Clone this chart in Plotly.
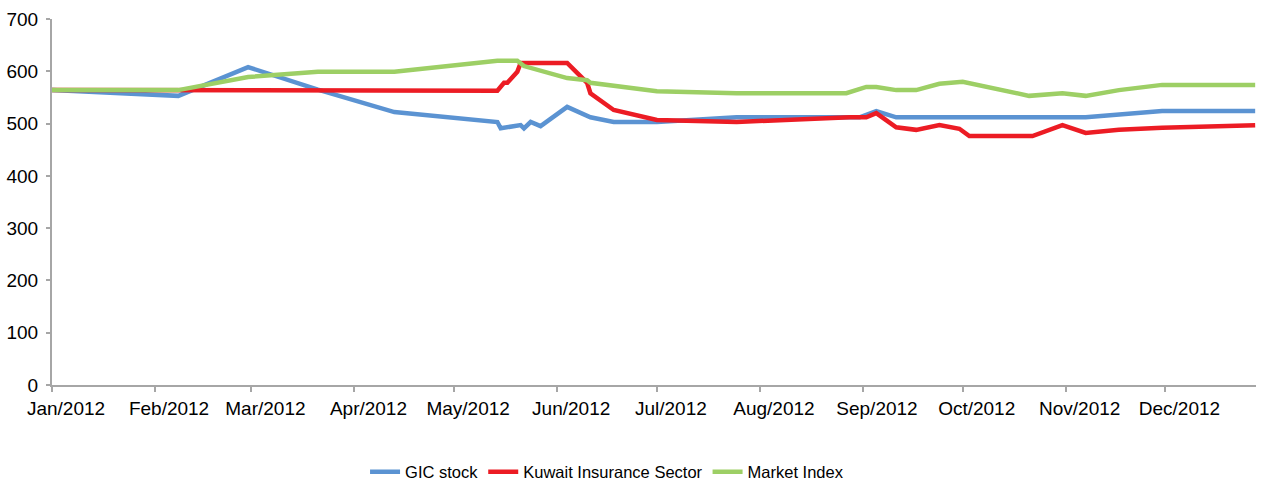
import plotly.graph_objects as go

gic_dates = ["2012-01-01", "2012-02-08", "2012-02-29", "2012-03-21", "2012-04-13", "2012-05-14",
             "2012-05-15", "2012-05-21", "2012-05-22", "2012-05-24", "2012-05-27", "2012-06-04",
             "2012-06-11", "2012-06-18", "2012-07-01", "2012-07-25", "2012-08-31", "2012-09-05",
             "2012-09-11", "2012-11-07", "2012-11-30", "2012-12-28"]
gic_values = [564, 553, 608, 565, 522, 503, 491, 497, 491, 503, 495, 532,
              512, 503, 503, 512, 512, 524, 512, 512, 524, 524]

kis_dates = ["2012-01-01", "2012-02-08", "2012-02-29", "2012-04-13", "2012-05-14", "2012-05-16",
             "2012-05-17", "2012-05-20", "2012-05-21", "2012-06-04", "2012-06-10", "2012-06-11",
             "2012-06-18", "2012-07-01", "2012-07-25", "2012-08-28", "2012-09-02", "2012-09-05",
             "2012-09-11", "2012-09-17", "2012-09-24", "2012-09-30", "2012-10-03", "2012-10-22",
             "2012-10-31", "2012-11-07", "2012-11-17", "2012-11-30", "2012-12-28"]
kis_values = [564, 564, 564, 564, 563, 578, 578, 599, 616, 616, 578, 558,
              526, 507, 503, 512, 512, 520, 493, 488, 497, 490, 476, 476,
              497, 482, 488, 492, 497]

mkt_dates = ["2012-01-01", "2012-02-08", "2012-02-29", "2012-03-21", "2012-04-13", "2012-05-14",
             "2012-05-20", "2012-05-22", "2012-06-04", "2012-06-10", "2012-06-11", "2012-06-18",
             "2012-07-01", "2012-07-25", "2012-08-27", "2012-09-02", "2012-09-05", "2012-09-11",
             "2012-09-17", "2012-09-24", "2012-10-01", "2012-10-21", "2012-10-31", "2012-11-07",
             "2012-11-17", "2012-11-30", "2012-12-28"]
mkt_values = [564, 564, 589, 599, 599, 620, 620, 610, 587, 583, 578, 572,
              562, 558, 558, 570, 570, 564, 564, 576, 580, 553, 558, 553,
              564, 574, 574]

tick_dates = ["2012-01-01", "2012-02-01", "2012-03-01", "2012-04-01", "2012-05-01", "2012-06-01",
              "2012-07-01", "2012-08-01", "2012-09-01", "2012-10-01", "2012-11-01", "2012-12-01"]
tick_labels = ["Jan/2012", "Feb/2012", "Mar/2012", "Apr/2012", "May/2012", "Jun/2012",
               "Jul/2012", "Aug/2012", "Sep/2012", "Oct/2012", "Nov/2012", "Dec/2012"]
y_ticks = [0, 100, 200, 300, 400, 500, 600, 700]

FONT = "Liberation Sans, Arial, sans-serif"

fig = go.Figure()
fig.add_trace(go.Scatter(x=gic_dates, y=gic_values, mode="lines", name="GIC stock",
                         line=dict(color="#5b93d2", width=4.5)))
fig.add_trace(go.Scatter(x=kis_dates, y=kis_values, mode="lines", name="Kuwait Insurance Sector",
                         line=dict(color="#ec1c24", width=4.5)))
fig.add_trace(go.Scatter(x=mkt_dates, y=mkt_values, mode="lines", name="Market Index",
                         line=dict(color="#9dcf65", width=4.5)))

fig.update_layout(
    width=1264, height=481,
    margin=dict(l=52, r=8, t=19, b=96, autoexpand=False),
    paper_bgcolor="white", plot_bgcolor="white",
    font=dict(family=FONT, size=19, color="black"),
    showlegend=True,
    legend=dict(orientation="h", x=0.461, xanchor="center", y=-0.238, yanchor="middle",
                font=dict(size=16.5), itemwidth=30, tracegroupgap=0),
)
fig.update_xaxes(
    type="date", range=["2012-01-01", "2012-12-28 06:00"],
    tickmode="array", tickvals=tick_dates, ticktext=tick_labels,
    showgrid=False, zeroline=False, automargin=False,
    showline=True, linecolor="#a6a6a6", linewidth=2,
    ticks="outside", ticklen=5, tickwidth=2, tickcolor="#a6a6a6",
    tickfont=dict(size=19), ticklabelshift=14,
)
fig.update_yaxes(
    range=[0, 700], tickmode="array", tickvals=y_ticks,
    showgrid=False, zeroline=False, automargin=False,
    showline=True, linecolor="#a6a6a6", linewidth=2,
    ticks="outside", ticklen=4, tickwidth=2, tickcolor="#a6a6a6",
    tickfont=dict(size=19), ticklabelstandoff=4,
)

fig.write_html("out.html", config={"displayModeBar": False},
               post_script="document.body.style.margin='0px';document.body.style.overflow='hidden';")
